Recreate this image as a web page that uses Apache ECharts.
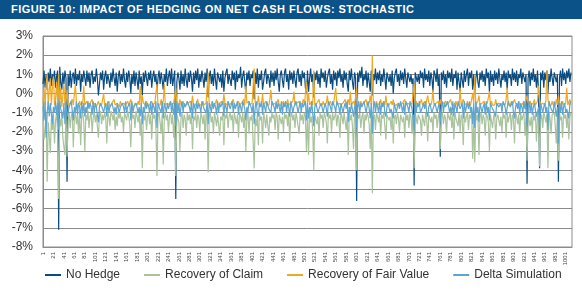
<!DOCTYPE html>
<html>
<head>
<meta charset="utf-8">
<script src="https://cdn.jsdelivr.net/npm/echarts@6.0.0/dist/echarts.min.js"></script>
<style>
  html, body { margin: 0; padding: 0; background: #fff; }
  #title { height: 19px; background: #0b5289; color: #fff; font: bold 11px "Liberation Sans", Arial, sans-serif; line-height: 19px; padding-left: 11px; letter-spacing: 0.45px; }
  #chart { width: 582px; height: 271px; }
</style>
</head>
<body>
<div id="title">FIGURE 10: IMPACT OF HEDGING ON NET CASH FLOWS: STOCHASTIC</div>
<div id="chart"></div>
<script>
// one point every 2 scenarios, scenario numbers shown on the axis as 1, 21, 41 ...
const step = 2

const seriesNames = ["No Hedge", "Recovery of Claim", "Recovery of Fair Value", "Delta Simulation"]
const seriesColors = ["#0b4c80", "#a9c39c", "#f0a922", "#5ea6cf"]

const noHedge = [
  0.5,1.2,0.3,1.0,0.2,1.1,0.6,1.3,0.4,1.0,0.7,1.2,0.3,0.9,1.2,-7.1,1.4,0.6,0.2,1.1,
  0.5,1.2,0.8,-4.6,1.0,0.4,1.2,0.3,0.9,1.1,0.5,1.3,0.4,1.0,0.7,1.2,0.1,1.0,0.6,1.2,
  0.8,0.4,1.2,0.6,1.1,0.3,1.0,1.2,0.5,0.9,0.6,1.3,0.8,-0.1,0.5,1.1,0.7,1.2,0.2,0.9,
  1.2,0.5,1.0,0.7,0.3,1.1,0.6,1.3,0.8,0.4,1.1,0.1,0.9,1.2,0.5,1.0,0.6,1.3,0.7,0.3,
  1.1,0.6,1.2,0.8,0.0,1.0,0.5,1.2,0.4,1.1,0.7,0.2,1.2,0.5,0.9,-0.1,1.1,0.6,1.2,0.8,
  0.4,1.1,0.7,1.2,0.3,0.9,1.2,0.6,1.0,0.1,0.8,1.2,0.5,1.1,0.7,0.2,1.0,0.6,1.3,0.4,
  0.9,1.2,0.5,1.3,0.4,0.8,1.2,-5.5,0.6,1.1,0.8,0.2,1.2,0.5,1.0,0.4,1.3,0.7,0.3,1.1,
  0.6,1.2,0.8,0.1,1.1,0.5,1.2,0.7,1.3,0.3,1.0,0.6,1.2,0.8,0.3,1.1,0.6,1.3,-0.2,0.9,
  1.2,0.5,1.0,0.4,1.3,0.7,0.2,1.1,1.2,0.6,1.0,0.3,1.2,0.1,0.8,1.1,1.3,0.5,1.0,0.7,
  0.4,1.2,0.7,1.1,0.2,1.2,0.6,1.0,0.8,1.4,0.3,0.9,1.2,0.6,0.0,1.1,0.7,1.2,0.4,1.0,
  0.8,1.2,-0.3,1.1,0.5,1.3,0.3,1.0,0.7,1.2,0.2,0.6,1.1,1.3,0.5,1.0,0.8,0.3,1.2,0.6,
  1.1,0.4,1.2,0.7,1.3,0.6,0.1,1.0,1.2,0.7,0.3,1.1,1.3,0.6,1.0,0.2,1.2,0.7,1.1,0.5,
  1.2,0.7,0.3,1.1,1.3,0.6,1.0,0.4,1.2,0.8,1.1,0.3,0.0,1.2,0.1,0.8,1.3,0.6,1.0,-0.2,
  1.1,0.7,1.2,0.5,1.0,0.3,1.3,0.8,1.1,0.6,1.2,0.3,0.8,1.1,1.3,0.5,1.0,0.2,1.2,0.7,
  1.1,0.4,1.2,0.8,1.3,0.6,1.0,0.3,1.2,0.7,1.1,0.5,0.1,1.2,0.7,1.3,0.6,0.2,1.1,0.8,
  -5.6,1.1,0.6,1.2,0.8,1.4,0.4,1.0,0.7,1.2,0.3,1.1,0.6,0.1,1.2,-0.1,1.0,0.7,1.3,0.5,
  1.1,0.7,1.2,0.4,1.0,0.6,1.3,0.8,0.2,1.1,1.2,0.6,1.0,0.4,1.2,0.0,0.8,1.1,1.3,0.6,
  1.0,0.4,1.2,0.7,1.1,0.5,1.3,0.8,0.3,1.1,1.2,0.6,1.0,0.5,0.8,-4.8,1.1,1.2,0.6,1.0,
  0.5,1.2,0.8,1.1,0.3,1.3,0.7,1.0,0.6,1.2,0.4,1.1,0.8,0.1,1.2,1.0,0.6,1.3,0.4,1.0,
  -3.3,1.1,0.7,1.2,0.5,1.0,0.3,1.2,0.8,1.1,0.6,1.3,0.4,1.0,0.8,1.2,0.2,1.1,0.6,0.1,
  1.1,0.7,0.3,1.2,0.6,1.0,1.3,0.4,1.1,0.8,1.2,0.2,1.0,0.0,0.8,1.2,0.6,0.3,1.1,0.7,
  1.2,0.6,1.0,0.4,1.3,0.8,1.1,0.1,1.2,0.6,1.0,0.4,1.2,0.7,1.1,0.5,1.3,0.8,0.3,1.0,
  0.7,1.2,0.6,1.1,0.2,1.2,0.8,1.0,0.4,1.3,0.7,1.1,0.6,1.2,0.4,1.0,0.8,1.3,0.5,1.1,
  1.2,0.6,1.0,-4.7,0.8,1.2,0.4,1.1,0.7,1.3,0.6,1.0,0.3,1.2,0.1,-3.9,1.1,0.7,1.2,0.3,
  1.1,0.7,1.2,0.0,1.0,0.6,1.3,0.8,0.4,1.1,1.2,0.6,1.0,-4.6,0.8,1.2,0.4,1.3,0.7,1.1,
  0.5,1.2,0.8,1.3,0.6,1.1
]

const recoveryClaim = [
  -1.2,-2.4,-1.8,-1.0,-4.6,-1.5,-2.2,-3.1,-1.3,-1.9,-1.1,-2.6,-1.4,-1.0,-2.0,-5.5,-1.3,-1.7,-1.0,-2.3,
  -2.8,-3.2,-1.1,-3.3,-1.4,-1.0,-1.8,-1.2,-0.9,-2.8,-1.3,-1.0,-1.6,-1.1,-2.1,-0.9,-2.7,-1.2,-1.0,-1.5,
  -3.0,-1.1,-1.4,-0.9,-1.8,-1.2,-1.0,-2.0,-1.3,-0.9,-1.5,-1.1,-1.0,-2.3,-1.2,-0.9,-1.6,-1.1,-1.4,-1.0,
  -1.3,-2.6,-1.0,-1.2,-1.7,-0.9,-1.1,-1.4,-1.0,-1.9,-1.2,-1.7,-0.9,-1.3,-1.0,-1.5,-1.2,-2.0,-1.0,-1.1,
  -1.4,-0.9,-1.2,-1.6,-2.8,-1.0,-1.3,-1.1,-1.8,-0.9,-1.2,-1.5,-1.0,-2.2,-1.3,-3.9,-1.1,-1.4,-1.0,-1.9,
  -1.2,-1.0,-1.6,-1.1,-2.4,-1.0,-1.3,-1.1,-1.7,-4.3,-1.2,-1.0,-1.5,-2.1,-1.1,-3.7,-1.3,-1.0,-1.4,-1.1,
  -2.0,-1.2,-1.0,-1.6,-1.1,-2.3,-1.3,-4.3,-1.1,-1.0,-1.5,-3.0,-1.2,-1.0,-1.8,-1.1,-1.3,-2.2,-1.0,-1.4,
  -1.1,-1.6,-1.0,-2.9,-1.2,-1.4,-1.0,-1.8,-1.1,-1.3,-2.0,-1.0,-1.2,-1.6,-1.1,-2.4,-1.0,-1.3,-4.1,-1.2,
  -1.0,-1.5,-1.2,-2.1,-1.0,-1.3,-1.7,-1.1,-1.0,-2.2,-1.2,-1.4,-1.0,-2.7,-1.1,-1.3,-1.0,-1.8,-1.2,-1.0,
  -1.4,-1.1,-2.0,-1.0,-1.3,-1.6,-1.1,-2.3,-1.0,-1.2,-1.5,-1.0,-1.8,-1.1,-3.0,-1.3,-1.0,-2.1,-1.2,-1.4,
  -1.1,-1.0,-3.9,-1.3,-1.7,-1.1,-2.7,-1.0,-1.4,-1.2,-2.6,-1.0,-1.3,-1.8,-1.1,-1.0,-2.2,-1.2,-1.5,-1.0,
  -1.3,-1.1,-1.9,-1.0,-1.2,-2.4,-1.1,-1.0,-1.6,-1.2,-2.0,-1.0,-1.3,-1.1,-1.7,-1.0,-2.5,-1.2,-1.0,-1.4,
  -1.1,-1.8,-1.0,-1.3,-1.2,-2.1,-1.0,-1.4,-1.1,-1.6,-1.0,-1.2,-3.0,-1.1,-3.2,-1.0,-1.5,-1.2,-1.9,-4.0,
  -1.1,-1.0,-1.6,-1.2,-2.2,-1.0,-1.3,-1.1,-1.8,-1.0,-1.2,-1.5,-2.6,-1.0,-1.3,-1.1,-2.0,-1.0,-1.4,-1.2,
  -1.0,-1.7,-1.1,-1.3,-2.3,-1.0,-1.2,-1.6,-1.0,-1.1,-1.9,-1.2,-3.2,-1.0,-1.4,-1.1,-1.7,-2.9,-1.0,-1.2,
  -4.0,-1.1,-1.3,-1.0,-1.8,-1.2,-1.0,-2.1,-1.1,-1.4,-1.0,-1.2,-1.6,-2.9,-1.0,-5.2,-1.3,-1.1,-1.9,-1.0,
  -1.2,-1.5,-1.0,-2.2,-1.1,-1.3,-1.0,-1.7,-2.4,-1.1,-1.0,-1.4,-1.2,-1.9,-1.0,-2.6,-1.3,-1.1,-1.6,-1.0,
  -1.3,-2.0,-1.1,-1.0,-1.5,-1.2,-2.3,-1.0,-1.4,-1.1,-1.8,-1.0,-1.2,-2.1,-1.1,-3.9,-1.0,-1.3,-1.6,-1.1,
  -1.0,-1.4,-2.2,-1.1,-1.2,-1.7,-1.0,-1.3,-2.5,-1.1,-1.0,-1.5,-1.2,-2.0,-1.0,-1.3,-1.1,-1.8,-1.2,-1.0,
  -2.9,-1.2,-1.0,-1.6,-1.1,-1.3,-2.1,-1.0,-1.2,-1.4,-1.0,-1.8,-1.1,-2.4,-1.0,-1.3,-1.2,-1.7,-1.0,-2.0,
  -1.1,-1.3,-2.7,-1.0,-1.5,-1.2,-1.0,-1.9,-1.1,-1.3,-1.0,-3.4,-1.2,-3.6,-1.0,-1.4,-1.1,-3.2,-1.2,-1.0,
  -1.6,-1.1,-1.3,-2.2,-1.0,-1.2,-1.5,-3.0,-1.1,-1.0,-1.8,-1.2,-1.0,-2.4,-1.3,-1.1,-1.0,-1.7,-1.2,-2.0,
  -1.0,-1.3,-1.1,-2.3,-1.0,-1.5,-1.2,-1.0,-1.9,-1.1,-1.3,-2.6,-1.0,-1.2,-1.6,-1.1,-2.1,-1.0,-1.4,-1.2,
  -1.0,-2.2,-1.3,-3.5,-1.1,-1.0,-1.7,-1.2,-2.0,-1.0,-1.4,-1.1,-2.5,-1.2,-1.0,-3.8,-1.3,-1.1,-1.8,-1.0,
  -1.2,-1.5,-1.1,-3.9,-1.0,-1.3,-2.1,-1.1,-1.2,-1.0,-1.7,-2.6,-1.1,-3.5,-1.0,-1.4,-1.2,-2.3,-1.0,-1.3,
  -1.1,-1.8,-1.0,-2.4,-1.2,-1.0
]

const recoveryFairValue = [
  -0.5,0.3,-0.6,0.5,1.0,-0.6,0.2,0.8,-0.6,0.4,0.9,-0.6,-0.3,0.6,-0.6,1.0,-0.5,0.3,-0.7,-0.6,
  0.5,-0.6,-0.4,0.2,-0.6,-0.7,-0.5,-0.6,-0.3,-0.6,-0.6,0.5,-0.5,-0.7,-0.6,-0.4,-0.6,-0.6,-0.5,0.4,
  -0.6,-0.6,-0.4,-0.6,-0.7,-0.5,-0.6,-0.3,-0.6,-0.6,-0.5,-0.7,-0.6,-0.4,-0.6,-0.5,-0.6,-0.6,0.0,-0.6,
  -0.5,-0.6,-0.6,-0.4,-0.7,-0.6,-0.5,-0.6,-0.3,-0.6,-0.6,-0.5,-0.6,-0.7,-0.4,-0.6,-0.6,-0.5,-0.6,-0.6,
  -0.6,-0.4,-0.6,-0.5,-0.3,-0.6,-0.6,-0.7,-0.5,-0.6,-0.6,-0.4,-0.6,0.4,-0.6,-0.1,-0.5,-0.6,-0.6,-0.4,
  -0.6,-0.5,-0.6,-0.7,-0.4,-0.6,-0.6,-0.5,-0.6,0.5,-0.6,-0.5,-0.6,-0.3,-0.6,-0.4,0.5,-0.6,-0.6,-0.5,
  -0.6,-0.6,-0.4,-0.6,-0.7,-0.5,-0.6,0.3,-0.6,-0.5,-0.6,-0.3,-0.6,-0.6,-0.4,-0.6,-0.5,-0.6,-0.7,-0.5,
  -0.6,-0.4,-0.6,-0.1,-0.6,-0.5,-0.6,-0.6,-0.3,-0.6,-0.5,-0.6,-0.7,-0.4,-0.6,-0.6,-0.5,-0.6,1.1,-0.6,
  -0.5,-0.6,-0.4,-0.6,-0.6,-0.5,-0.3,-0.6,-0.6,-0.5,-0.6,-0.4,-0.6,0.0,-0.5,-0.6,-0.6,-0.4,-0.6,-0.6,
  -0.5,-0.6,-0.3,-0.6,-0.5,-0.6,-0.6,-0.4,-0.6,-0.6,-0.5,-0.6,-0.3,-0.6,0.4,-0.5,-0.6,-0.4,-0.6,-0.6,
  -0.5,-0.6,1.3,-0.5,-0.6,-0.6,-0.1,-0.6,-0.5,-0.6,0.0,-0.6,-0.6,-0.4,-0.6,-0.5,-0.6,-0.3,0.2,-0.6,
  -0.6,-0.5,-0.4,-0.6,-0.6,-0.3,-0.6,-0.5,-0.6,-0.6,-0.4,-0.6,-0.6,-0.5,-0.3,-0.6,-0.6,-0.5,-0.6,-0.4,
  0.1,-0.6,-0.6,-0.5,-0.6,-0.4,-0.6,-0.6,-0.5,-0.3,-0.6,-0.6,0.6,-0.5,0.0,-0.6,-0.6,-0.4,-0.6,1.2,
  -0.6,-0.6,-0.5,-0.6,-0.3,-0.6,-0.5,-0.6,-0.4,-0.6,-0.6,-0.5,-0.1,-0.6,-0.6,-0.4,-0.6,-0.6,-0.5,-0.6,
  0.3,-0.6,-0.6,-0.5,-0.4,-0.6,-0.6,-0.5,-0.6,-0.3,-0.6,-0.5,-0.3,-0.6,0.1,-0.6,-0.5,-0.4,-0.6,-0.6,
  0.3,-0.6,-0.5,-0.6,-0.4,-0.6,-0.6,-0.5,-0.6,-0.3,-0.6,-0.6,-0.5,-0.1,-0.6,2.0,-0.6,-0.5,-0.6,-0.4,
  -0.6,-0.6,-0.5,-0.3,-0.6,-0.6,-0.4,-0.6,-0.1,-0.6,-0.5,-0.6,-0.6,-0.4,-0.6,-0.3,-0.6,-0.5,-0.6,-0.6,
  -0.5,-0.4,-0.6,-0.6,-0.5,-0.6,-0.3,-0.6,-0.6,-0.5,-0.4,-0.6,-0.6,-0.5,-0.6,0.5,-0.6,-0.4,-0.6,-0.5,
  -0.6,-0.6,-0.3,-0.6,-0.5,-0.4,-0.6,-0.6,-0.1,-0.5,-0.6,-0.6,-0.4,0.2,-0.6,-0.6,-0.5,-0.6,-0.4,-0.6,
  -0.3,-0.6,-0.6,-0.5,-0.6,-0.4,-0.6,-0.6,-0.5,-0.6,-0.3,-0.6,-0.5,-0.6,-0.6,-0.4,-0.6,-0.5,-0.6,0.3,
  -0.6,-0.6,-0.3,-0.5,-0.6,-0.6,-0.4,-0.6,-0.5,-0.6,-0.6,0.0,-0.5,0.9,-0.6,-0.6,-0.4,-0.1,-0.6,-0.6,
  -0.5,-0.6,-0.4,-0.6,-0.6,-0.5,-0.6,0.1,-0.6,-0.4,-0.6,-0.5,-0.6,-0.3,-0.6,-0.6,-0.5,-0.4,-0.6,-0.6,
  -0.5,-0.6,-0.6,-0.3,0.3,-0.6,-0.5,-0.6,-0.4,-0.6,-0.6,-0.3,-0.5,-0.6,-0.6,-0.4,-0.6,-0.5,-0.6,-0.6,
  -0.4,-0.6,-0.6,-0.1,-0.5,-0.6,-0.4,-0.6,-0.6,-0.5,-0.3,-0.6,-0.6,-0.4,0.4,-0.3,-0.6,-0.6,-0.5,-0.6,
  -0.6,-0.4,1.2,-0.3,-0.6,-0.5,-0.6,-0.4,-0.6,-0.5,-0.6,-0.3,-0.6,-0.1,-0.5,-0.6,-0.6,-0.4,-0.6,-0.6,
  -0.5,0.3,-0.6,-0.6,-0.3,-0.6
]

const deltaSimulation = [
  -0.7,-1.4,-0.4,-2.3,-1.0,-0.4,-1.2,-0.5,-0.4,-1.6,-0.7,-1.0,-0.4,-1.1,-0.5,-1.9,-0.4,-0.8,-0.7,-1.3,
  -0.5,-1.6,-0.4,-1.2,-1.0,-0.7,-0.8,-0.4,-0.5,-1.4,-0.7,-1.0,-0.4,-1.1,-0.5,-0.7,-1.3,-0.4,-1.0,-0.5,
  -1.2,-0.7,-1.0,-0.4,-0.8,-0.5,-0.7,-1.1,-0.4,-1.0,-0.5,-0.7,-0.8,-1.5,-0.7,-0.5,-0.4,-0.8,-1.0,-0.7,
  -0.5,-1.2,-0.4,-1.0,-0.7,-0.8,-0.5,-0.4,-1.0,-0.7,-1.1,-0.5,-0.4,-1.0,-0.7,-0.8,-0.5,-0.7,-1.0,-0.4,
  -1.0,-0.7,-0.8,-0.5,-1.4,-0.4,-1.0,-0.7,-0.8,-0.5,-0.4,-1.0,-0.7,-1.2,-0.5,-1.6,-0.7,-1.0,-0.4,-0.8,
  -0.5,-0.7,-1.0,-0.4,-1.1,-0.5,-0.7,-1.0,-0.4,-1.8,-0.5,-0.7,-0.8,-1.0,-0.4,-1.3,-0.5,-0.7,-1.0,-0.5,
  -0.8,-0.7,-0.4,-1.0,-0.5,-1.1,-0.7,-1.7,-0.4,-1.0,-0.5,-1.2,-0.7,-0.4,-1.0,-0.5,-0.7,-0.8,-0.4,-0.5,
  -0.7,-1.0,-0.4,-1.3,-0.5,-0.7,-1.0,-0.4,-0.8,-0.5,-0.7,-1.0,-0.4,-0.5,-0.8,-0.7,-1.0,-0.4,-1.6,-0.5,
  -0.7,-1.0,-0.4,-0.8,-0.5,-0.7,-1.1,-0.4,-1.0,-0.5,-0.7,-0.8,-0.4,-1.2,-0.5,-0.7,-1.0,-0.4,-0.5,-0.8,
  -0.7,-0.4,-1.0,-0.5,-0.8,-0.7,-0.4,-1.1,-0.5,-0.7,-1.0,-0.4,-0.5,-0.8,-1.4,-0.7,-1.0,-0.4,-0.5,-0.7,
  -1.0,-0.5,-1.6,-0.7,-0.4,-1.0,-1.2,-0.5,-0.7,-0.4,-1.1,-0.5,-0.7,-1.0,-0.4,-0.5,-0.8,-0.7,-1.0,-0.4,
  -0.5,-0.7,-1.0,-0.4,-0.8,-0.5,-0.7,-1.0,-0.4,-1.1,-0.5,-0.7,-0.4,-1.0,-0.5,-0.7,-1.2,-0.4,-0.5,-1.0,
  -0.7,-0.8,-0.4,-0.5,-1.0,-0.7,-0.4,-1.0,-0.5,-0.7,-0.8,-0.4,-1.4,-0.5,-1.3,-0.7,-1.0,-0.4,-0.5,-1.7,
  -0.7,-0.5,-0.4,-1.0,-0.8,-0.7,-0.5,-0.4,-1.0,-0.7,-0.5,-0.8,-1.2,-0.4,-0.5,-0.7,-1.0,-0.4,-0.5,-0.7,
  -1.0,-0.4,-0.5,-0.7,-1.1,-0.5,-0.4,-1.0,-0.7,-0.5,-0.8,-0.4,-1.5,-0.7,-1.0,-0.5,-0.4,-1.2,-0.7,-0.5,
  -1.8,-0.7,-0.4,-1.0,-0.5,-0.7,-0.8,-0.4,-0.5,-1.0,-0.7,-0.4,-0.8,-1.3,-0.5,-2.1,-0.7,-0.4,-1.0,-0.5,
  -0.7,-1.0,-0.4,-1.1,-0.5,-0.7,-0.4,-1.0,-1.2,-0.7,-0.5,-0.4,-1.0,-0.8,-0.7,-1.3,-0.5,-0.4,-1.0,-0.7,
  -0.5,-0.8,-0.4,-0.7,-1.0,-0.5,-1.1,-0.4,-0.5,-0.7,-1.0,-0.4,-0.5,-0.8,-0.7,-1.9,-0.4,-1.0,-0.5,-0.7,
  -0.4,-1.0,-1.1,-0.7,-0.5,-0.8,-0.4,-1.0,-1.2,-0.7,-0.5,-0.4,-1.0,-0.8,-0.7,-0.5,-0.4,-1.0,-0.7,-0.5,
  -1.5,-0.7,-0.4,-1.0,-0.5,-0.7,-0.8,-0.4,-0.5,-1.0,-0.7,-1.1,-0.4,-1.2,-0.5,-0.7,-1.0,-0.4,-0.5,-0.8,
  -0.7,-0.5,-1.3,-0.4,-1.0,-0.7,-0.5,-0.8,-0.4,-1.0,-0.7,-1.6,-0.5,-1.8,-0.4,-1.0,-0.7,-1.5,-0.5,-0.4,
  -1.0,-0.7,-0.5,-1.1,-0.4,-1.0,-0.7,-1.4,-0.5,-0.4,-0.8,-0.7,-1.0,-1.2,-0.5,-0.4,-0.7,-0.8,-0.5,-1.0,
  -0.4,-0.5,-0.7,-1.1,-1.0,-0.4,-0.5,-0.7,-0.8,-0.4,-1.0,-1.3,-0.7,-0.5,-0.8,-0.4,-1.1,-0.5,-0.7,-1.0,
  -0.4,-0.8,-0.5,-1.7,-0.7,-0.4,-1.0,-0.5,-1.1,-0.7,-0.5,-0.4,-1.2,-1.0,-0.7,-1.8,-0.5,-0.4,-1.0,-0.7,
  -0.5,-1.0,-0.7,-1.9,-0.4,-0.5,-0.8,-0.7,-1.0,-0.4,-0.5,-1.2,-0.7,-2.6,-0.5,-1.0,-0.4,-1.1,-0.7,-0.5,
  -1.0,-0.8,-0.7,-1.3,-0.5,-0.4
]

const allSeries = [noHedge, recoveryClaim, recoveryFairValue, deltaSimulation]

var chartDom = document.getElementById('chart')
var myChart = echarts.init(chartDom, null, { renderer: 'canvas' })

let option = {
  animation: false,
  color: seriesColors,
  textStyle: { fontFamily: 'Liberation Sans, Arial, sans-serif' },
  grid: { left: 43, right: 10, top: 17, bottom: 43, show: true, borderColor: '#8c8c8c', borderWidth: 1, backgroundColor: 'transparent' },
  legend: {
    bottom: 4,
    left: 40,
    itemWidth: 16,
    itemHeight: 2,
    itemGap: 24,
    icon: 'rect',
    textStyle: { fontSize: 12, color: '#333' },
    data: seriesNames
  },
  xAxis: {
    type: 'value',
    min: 0,
    max: 1012,
    interval: 20,
    axisLine: { show: true, onZero: false, lineStyle: { color: '#8c8c8c' } },
    axisTick: { show: false },
    splitLine: { show: false },
    axisLabel: {
      rotate: 90,
      fontSize: 6,
      color: '#444',
      margin: 5,
      showMaxLabel: false,
      formatter: (v) => String(v + 1)
    }
  },
  yAxis: {
    type: 'value',
    min: -8,
    max: 3,
    interval: 1,
    axisLine: { show: true, lineStyle: { color: '#8c8c8c' } },
    axisTick: { show: false },
    splitLine: { lineStyle: { color: '#8a8a8a', width: 1 } },
    axisLabel: { fontSize: 12, color: '#333', margin: 10, formatter: '{value}%' }
  },
  series: seriesNames.map((name, i) => ({
    name: name,
    type: 'line',
    symbol: 'none',
    lineStyle: { width: 1.2 },
    data: allSeries[i].map((v, j) => [j * step, v])
  }))
}

option && myChart.setOption(option)
</script>
</body>
</html>
